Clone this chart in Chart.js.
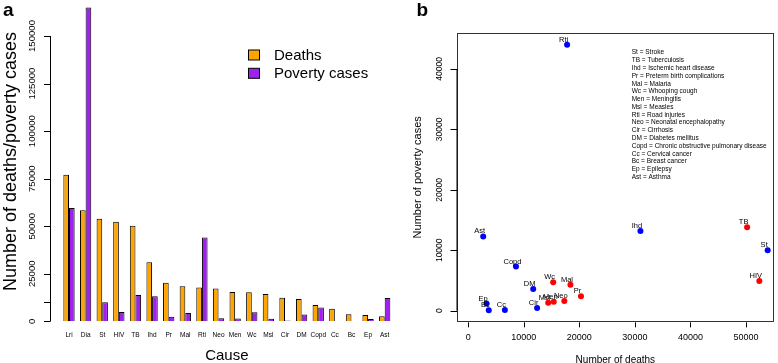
<!DOCTYPE html>
<html>
<head>
<meta charset="utf-8">
<script src="https://cdn.jsdelivr.net/npm/chart.js@4.4.1/dist/chart.umd.min.js"></script>
<style>
  html, body { margin: 0; padding: 0; background: #fff; }
  #wrap { position: relative; width: 778px; height: 363px; overflow: hidden; }
  #boxA { position: absolute; left: 0; top: 0; width: 393px; height: 363px; }
  #boxB { position: absolute; left: 390px; top: 0; width: 388px; height: 363px; }
</style>
</head>
<body>
<div id="wrap">
  <div id="boxA"><canvas id="barChart"></canvas></div>
  <div id="boxB"><canvas id="scatterChart"></canvas></div>
</div>
<script>
// --- datos ---
const causes = ['Lri','Dia','St','HIV','TB','Ihd','Pr','Mal','Rti','Neo','Men','Wc','Msl','Cir','DM','Copd','Cc','Bc','Ep','Ast'];
const deaths = [77000, 58400, 53900, 52400, 50200, 31000, 20300, 18400, 17800, 17300, 15400, 15300, 14400, 12400, 11700, 8600, 6600, 3700, 3300, 2700];
const povertyCases = [59600, 165000, 10000, 4900, 13800, 13200, 2400, 4300, 44000, 1600, 1500, 4700, 1300, 450, 3600, 7300, 100, 80, 1200, 12300];
const barYTicks = [0, 10000, 25000, 50000, 75000, 100000, 125000, 150000];

// panel b: todas menos Lri y Dia; rojo = enfermedades "de pobreza"
const scatterCauses = ['St','HIV','TB','Ihd','Pr','Mal','Rti','Neo','Men','Wc','Msl','Cir','DM','Copd','Cc','Bc','Ep','Ast'];
const redCauses = ['HIV','TB','Pr','Mal','Neo','Men','Wc','Msl'];
const scatterXTicks = [0, 10000, 20000, 30000, 40000, 50000];
const scatterYTicks = [0, 10000, 20000, 30000, 40000];
const keyLines = [
  'St = Stroke', 'TB = Tuberculosis', 'Ihd = Ischemic heart disease', 'Pr = Preterm birth complications',
  'Mal = Malaria', 'Wc = Whooping cough', 'Men = Meningitis', 'Msl = Measles', 'Rti = Road injuries',
  'Neo = Neonatal encephalopathy', 'Cir = Cirrhosis', 'DM = Diabetes mellitus',
  'Copd = Chronic obstructive pulmonary disease', 'Cc = Cervical cancer', 'Bc = Breast cancer',
  'Ep = Epilepsy', 'Ast = Asthma'
];

const FONT = "'Liberation Sans', Arial, Helvetica, sans-serif";
Chart.defaults.font.family = FONT;
Chart.defaults.color = '#000';

// eje y estilo R: linea solo entre primer y ultimo tick, ticks hacia fuera
function drawRAxisY(chart, ax, len) {
  const ctx = chart.ctx, y = chart.scales.y;
  const vals = y.ticks.map(t => t.value);
  ctx.save();
  ctx.strokeStyle = '#000';
  ctx.lineWidth = 1;
  ctx.beginPath();
  ctx.moveTo(ax + 0.5, y.getPixelForValue(vals[0]));
  ctx.lineTo(ax + 0.5, y.getPixelForValue(vals[vals.length - 1]));
  vals.forEach(v => {
    const py = Math.round(y.getPixelForValue(v)) + 0.5;
    ctx.moveTo(ax + 0.5, py);
    ctx.lineTo(ax - len, py);
  });
  ctx.stroke();
  ctx.restore();
}

// quitar el relleno que Chart.js reserva para las etiquetas giradas
function noLabelPadding(s) {
  s.paddingTop = 0; s.paddingBottom = 0; s.paddingLeft = 0; s.paddingRight = 0;
}

const barExtras = {
  id: 'barExtras',
  afterDraw(chart) {
    const ctx = chart.ctx;
    drawRAxisY(chart, 50, 6);
    ctx.save();
    // leyenda
    chart.data.datasets.forEach((ds, i) => {
      const y0 = 50 + i * 18.3;
      ctx.fillStyle = ds.backgroundColor;
      ctx.fillRect(248.5, y0, 11, 10);
      ctx.strokeStyle = '#000';
      ctx.lineWidth = 1;
      ctx.strokeRect(248.5, y0, 11, 10);
      ctx.fillStyle = '#000';
      ctx.font = '15px ' + FONT;
      ctx.textBaseline = 'middle';
      ctx.fillText(ds.label, 274, y0 + 5.5);
    });
    ctx.font = 'bold 19px ' + FONT;
    ctx.textBaseline = 'alphabetic';
    ctx.fillText('a', 3, 16);
    ctx.restore();
  }
};

new Chart(document.getElementById('barChart'), {
  type: 'bar',
  data: {
    labels: causes,
    datasets: [
      { label: 'Deaths', data: deaths, backgroundColor: '#FFA500', borderColor: '#000', borderWidth: 1 },
      { label: 'Poverty cases', data: povertyCases, backgroundColor: '#A020F0', borderColor: '#000', borderWidth: 1 }
    ]
  },
  options: {
    responsive: true,
    maintainAspectRatio: false,
    animation: false,
    layout: { padding: { top: 1.8, left: 0, right: 0, bottom: 0 } },
    datasets: { bar: { categoryPercentage: 0.68, barPercentage: 1 } },
    plugins: { legend: { display: false }, tooltip: { enabled: false } },
    scales: {
      x: {
        offset: true,
        grid: { display: false, drawTicks: false },
        border: { display: false },
        ticks: { font: { size: 6.5 }, padding: 10.4, autoSkip: false, minRotation: 0, maxRotation: 0 },
        title: { display: true, text: 'Cause', font: { size: 15, lineHeight: 1 }, padding: { top: 0, bottom: 0 } },
        afterFit: s => { s.height = 41.7; noLabelPadding(s); }
      },
      y: {
        min: 0,
        max: 168000,
        afterBuildTicks: s => { s.ticks = barYTicks.map(v => ({ value: v })); },
        grid: { display: false, drawTicks: false },
        border: { display: false },
        ticks: {
          callback: v => (v === 10000 ? '' : String(v)),
          font: { size: 9.6 }, crossAlign: 'center', minRotation: 90, maxRotation: 90,
          padding: 12.7, autoSkip: false
        },
        title: { display: true, text: 'Number of deaths/poverty cases', font: { size: 18, lineHeight: 1 }, padding: { top: 1.7, bottom: 0 } },
        afterFit: s => { s.width = 60.7; noLabelPadding(s); }
      }
    }
  },
  plugins: [barExtras]
});

// ---- panel b ----
const scatterPoints = scatterCauses.map(c => {
  const i = causes.indexOf(c);
  return { x: deaths[i], y: povertyCases[i] };
});
const scatterColors = scatterCauses.map(c => (redCauses.includes(c) ? '#FF0000' : '#0000FF'));

const scatterExtras = {
  id: 'scatterExtras',
  afterDraw(chart) {
    const ctx = chart.ctx, a = chart.chartArea;
    const xs = chart.scales.x;
    ctx.save();
    ctx.strokeStyle = '#333';
    ctx.lineWidth = 1;
    ctx.strokeRect(Math.round(a.left) + 0.5, Math.round(a.top) + 0.5, Math.round(a.right - a.left) - 1, Math.round(a.bottom - a.top));
    ctx.strokeStyle = '#000';
    ctx.beginPath();
    xs.ticks.forEach(t => {
      const px = Math.round(xs.getPixelForValue(t.value)) + 0.5;
      ctx.moveTo(px, a.bottom + 1);
      ctx.lineTo(px, a.bottom + 6);
    });
    ctx.stroke();
    ctx.restore();
    drawRAxisY(chart, Math.round(a.left) - 0.5, 6);

    // etiquetas de los puntos
    ctx.save();
    const meta = chart.getDatasetMeta(0);
    ctx.font = '7.5px ' + FONT;
    ctx.fillStyle = '#000';
    ctx.textAlign = 'center';
    ctx.textBaseline = 'middle';
    meta.data.forEach((pt, i) => {
      ctx.fillText(scatterCauses[i], pt.x - 3.5, pt.y - 5);
    });
    // clave de abreviaturas
    ctx.font = '6.5px ' + FONT;
    ctx.textAlign = 'left';
    keyLines.forEach((line, i) => {
      ctx.fillText(line, 241.7, 52.7 + i * 7.77);
    });
    ctx.font = 'bold 19px ' + FONT;
    ctx.textBaseline = 'alphabetic';
    ctx.fillText('b', 26.5, 16);
    ctx.restore();
  }
};

new Chart(document.getElementById('scatterChart'), {
  type: 'scatter',
  data: {
    datasets: [{
      data: scatterPoints,
      pointBackgroundColor: scatterColors,
      pointBorderColor: scatterColors,
      pointRadius: 3,
      pointBorderWidth: 0
    }]
  },
  options: {
    responsive: true,
    maintainAspectRatio: false,
    animation: false,
    layout: { padding: { top: 33.3, left: 0, right: 0.7, bottom: 0 } },
    plugins: { legend: { display: false }, tooltip: { enabled: false } },
    scales: {
      x: {
        type: 'linear',
        min: -2070,
        max: 55040,
        afterBuildTicks: s => { s.ticks = scatterXTicks.map(v => ({ value: v })); },
        grid: { display: false, drawTicks: false },
        border: { display: false },
        ticks: { callback: v => String(v), font: { size: 9 }, padding: 11, autoSkip: false, minRotation: 0, maxRotation: 0 },
        title: { display: true, text: 'Number of deaths', font: { size: 10, lineHeight: 1 }, padding: { top: 0, bottom: -2 } },
        afterFit: s => { s.height = 41.7; noLabelPadding(s); }
      },
      y: {
        type: 'linear',
        min: -1750,
        max: 45900,
        afterBuildTicks: s => { s.ticks = scatterYTicks.map(v => ({ value: v })); },
        grid: { display: false, drawTicks: false },
        border: { display: false },
        ticks: {
          callback: v => String(v), font: { size: 8.5 }, crossAlign: 'center',
          minRotation: 90, maxRotation: 90, padding: 5.6, autoSkip: false
        },
        title: { display: true, text: 'Number of poverty cases', font: { size: 11, lineHeight: 1 }, padding: { top: 22.8, bottom: 0 } },
        afterFit: s => { s.width = 66.7; noLabelPadding(s); }
      }
    }
  },
  plugins: [scatterExtras]
});
</script>
</body>
</html>
